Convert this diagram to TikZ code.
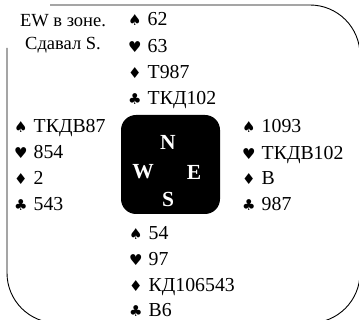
\documentclass[tikz,border=0pt]{standalone}
\usepackage{fontspec}
\setmainfont{Liberation Serif}
\newfontfamily\symf{DejaVu Sans}
\newcommand\su[1]{\makebox[19.5pt][l]{\symf\fontsize{15}{15}\selectfont #1}}
\begin{document}
\begin{tikzpicture}[x=1pt,y=-1pt,
  hand/.style={anchor=base west, inner sep=0pt, font=\fontsize{19.8}{21}\selectfont},
  note/.style={anchor=base, inner sep=0pt, font=\fontsize{18.5}{20}\selectfont},
  compass/.style={text=white, inner sep=0pt, font=\fontsize{21.5}{23}\selectfont\bfseries},
  frame/.style={line width=0.9pt, rounded corners=50pt}]
\useasboundingbox (0,0) rectangle (359,320);
\draw[frame] (50,5) -- (360,5) -- (360,323) -- (7,323) -- (7,48);
\node[note] (t1) at (63,27) {EW в зоне.};
\node[note] (t2) at (63,50) {Сдавал S.};
% board
\node[fill=black, rounded corners=15pt, minimum size=99pt, inner sep=0pt] (board) at (170.5,164.5) {};
\node[compass] (N) at (168,142) {N};
\node[compass] (W) at (143,172) {W};
\node[compass] (E) at (194,172) {E};
\node[compass] (S) at (168,199) {S};
% North
\node[hand] (n1) at (128,26) {\su{♠}62};
\node[hand] (n2) at (128,52.5) {\su{♥}63};
\node[hand] (n3) at (128,78.5) {\su{♦}Т987};
\node[hand] (n4) at (128,105) {\su{♣}ТКД102};
% West
\node[hand] (w1) at (14,133) {\su{♠}ТКДВ87};
\node[hand] (w2) at (14,159) {\su{♥}854};
\node[hand] (w3) at (14,185) {\su{♦}2};
\node[hand] (w4) at (14,211) {\su{♣}543};
% East
\node[hand] (e1) at (242,133) {\su{♠}1093};
\node[hand] (e2) at (242,160) {\su{♥}ТКДВ102};
\node[hand] (e3) at (242,185) {\su{♦}В};
\node[hand] (e4) at (242,211) {\su{♣}987};
% South
\node[hand] (s1) at (129,240) {\su{♠}54};
\node[hand] (s2) at (129,265.5) {\su{♥}97};
\node[hand] (s3) at (129,292) {\su{♦}КД106543};
\node[hand] (s4) at (129,317) {\su{♣}В6};
\end{tikzpicture}
\end{document}
